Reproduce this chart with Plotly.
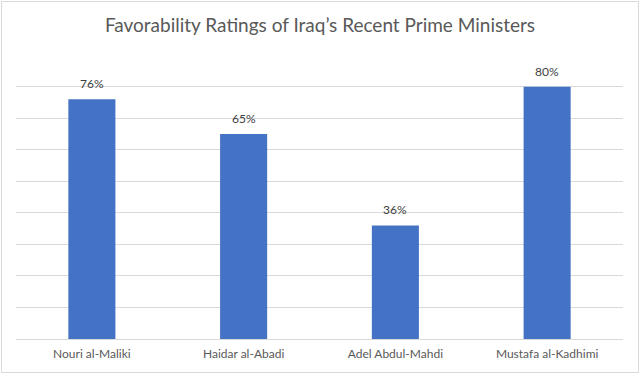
import plotly.graph_objects as go

categories = ["Nouri al-Maliki", "Haidar al-Abadi", "Adel Abdul-Mahdi", "Mustafa al-Kadhimi"]
values = [76, 65, 36, 80]
labels = ["76%", "65%", "36%", "80%"]

W, H = 640, 374
ml, mr, mt, mb = 16, 17, 55, 35
pw, ph = W - ml - mr, H - mt - mb

fig = go.Figure(go.Bar(
    x=categories, y=values,
    marker=dict(color="#4472C4", line=dict(width=0)),
    width=0.31, hoverinfo="skip",
))

annotations = [
    dict(x=c, y=v, text=t, xref="x", yref="y", showarrow=False,
         yanchor="bottom", yshift=6,
         font=dict(size=12, color="#404040", family="Lato"))
    for c, v, t in zip(categories, values, labels)
]

fig.update_layout(
    width=W, height=H,
    margin=dict(l=ml, r=mr, t=mt, b=mb, autoexpand=False),
    paper_bgcolor="white", plot_bgcolor="white",
    title=dict(text="Favorability Ratings of Iraq’s Recent Prime Ministers",
               x=0.5, xanchor="center", y=1 - 25 / H, yanchor="middle",
               font=dict(size=19, color="#595959", family="Lato")),
    font=dict(family="Lato", color="#595959", size=11),
    showlegend=False,
    annotations=annotations,
    shapes=[dict(type="rect", xref="paper", yref="paper",
                 x0=(1.5 - ml) / pw, x1=(W - 1.5 - ml) / pw,
                 y0=-(mb - 1.5) / ph, y1=1 + (mt - 1.5) / ph,
                 line=dict(color="#D9D9D9", width=1), fillcolor="rgba(0,0,0,0)", layer="below")],
)
fig.update_xaxes(showgrid=False, showline=True, linecolor="#D9D9D9", linewidth=1,
                 ticks="", automargin=False, ticklabelstandoff=4,
                 tickfont=dict(size=12, color="#595959", family="Lato"))
fig.update_yaxes(range=[0, 90.05], dtick=10, showgrid=True, gridcolor="#D9D9D9", gridwidth=1,
                 showticklabels=False, zeroline=False, showline=False, automargin=False)

fig.write_html("out.html", config={"displayModeBar": False},
               post_script="document.body.style.margin='0';document.body.style.padding='0';document.body.style.overflow='hidden';")
